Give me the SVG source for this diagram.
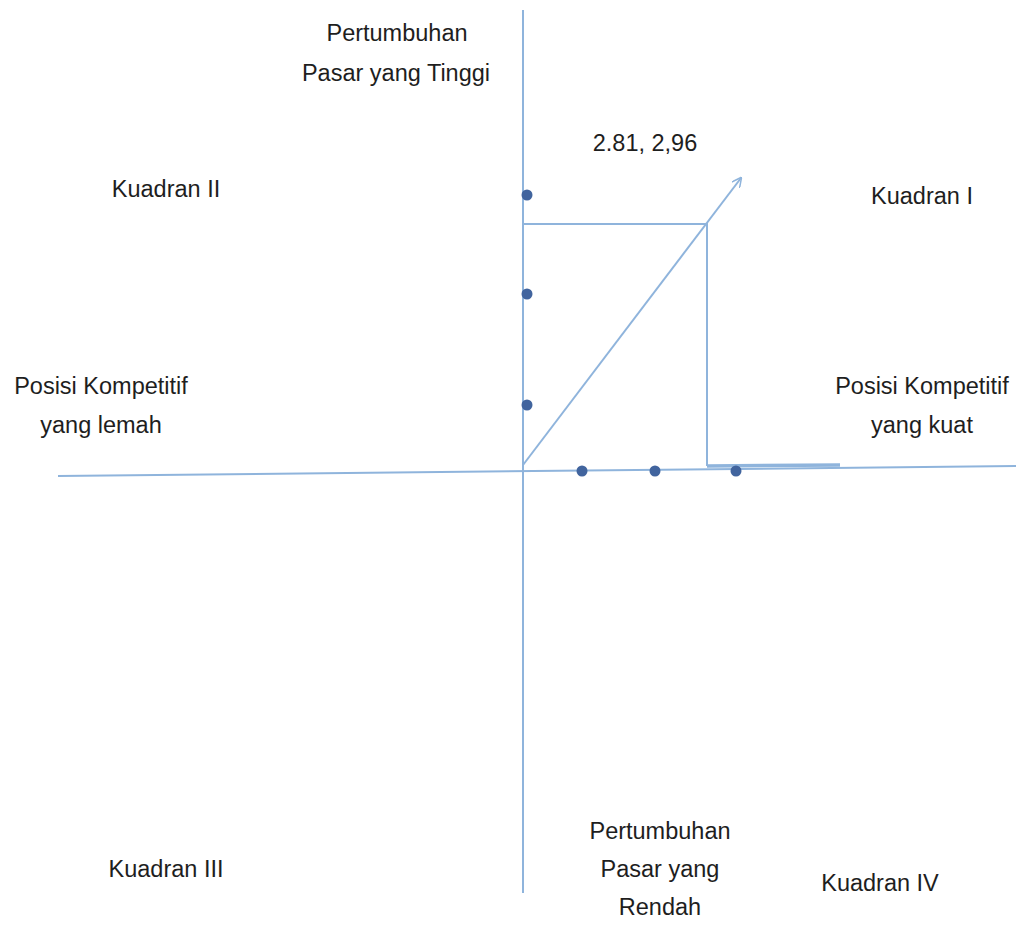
<svg xmlns="http://www.w3.org/2000/svg" width="1018" height="927" viewBox="0 0 1018 927">
<style>
.t{font-family:"Liberation Sans",Arial,sans-serif;font-size:23.5px;fill:#1e1e1e;text-anchor:middle}
.ax{stroke:#8fb4dc;stroke-width:2;fill:none}
.dot{fill:#41649e}
</style>
<defs>
<marker id="arr" viewBox="0 0 10 10" refX="9" refY="5" markerWidth="10" markerHeight="10" markerUnits="userSpaceOnUse" orient="auto">
<path d="M0,0 L10,5 L0,10" fill="none" stroke="#8fb4dc" stroke-width="1.5"/>
</marker>
</defs>
<rect width="1018" height="927" fill="#fff"/>
<g id="connectors">
<line class="ax" x1="523" y1="10" x2="523" y2="893"/>
<line class="ax" x1="58" y1="476" x2="1016" y2="466"/>
<polyline class="ax" points="523,224 707,224 707,466"/>
<line x1="707" y1="466" x2="840" y2="465" stroke="#8fb4dc" stroke-width="3.5"/>
<line class="ax" x1="523" y1="465" x2="741" y2="178" marker-end="url(#arr)"/>
</g>
<g id="dots">
<circle class="dot" cx="527" cy="195" r="5.5"/>
<circle class="dot" cx="527" cy="294" r="5.5"/>
<circle class="dot" cx="527" cy="405" r="5.5"/>
<circle class="dot" cx="582" cy="471" r="5.5"/>
<circle class="dot" cx="655" cy="471" r="5.5"/>
<circle class="dot" cx="736" cy="471" r="5.5"/>
</g>
<g id="top-label"><text class="t" x="397" y="41">Pertumbuhan</text><text class="t" x="396" y="81">Pasar yang Tinggi</text></g>
<g id="point-label"><text class="t" x="645" y="151">2.81, 2,96</text></g>
<g id="q2"><text class="t" x="166" y="197">Kuadran II</text></g>
<g id="q1"><text class="t" x="922" y="204">Kuadran I</text></g>
<g id="left-label"><text class="t" x="101" y="394">Posisi Kompetitif</text><text class="t" x="101" y="433">yang lemah</text></g>
<g id="right-label"><text class="t" x="922" y="394">Posisi Kompetitif</text><text class="t" x="922" y="433">yang kuat</text></g>
<g id="q3"><text class="t" x="166" y="877">Kuadran III</text></g>
<g id="bottom-label"><text class="t" x="660" y="839">Pertumbuhan</text><text class="t" x="660" y="877">Pasar yang</text><text class="t" x="660" y="915">Rendah</text></g>
<g id="q4"><text class="t" x="880" y="891">Kuadran IV</text></g>
</svg>
